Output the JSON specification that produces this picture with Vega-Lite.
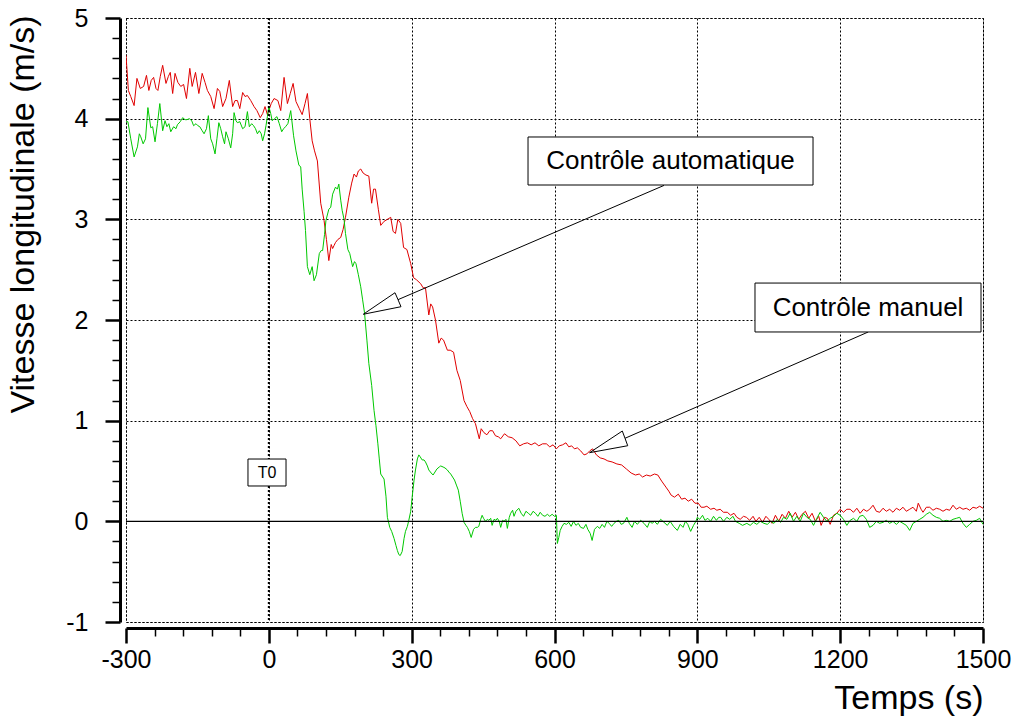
{
"$schema": "https://vega.github.io/schema/vega-lite/v6.json",
"width": 857,
"height": 604,
"autosize": {"type": "none"},
"padding": {"left": 126, "top": 18, "right": 33, "bottom": 97},
"background": "white",
"config": {
  "font": "Liberation Sans",
  "view": {"stroke": "black", "strokeDash": [2, 2], "strokeWidth": 1},
  "axis": {"domainColor": "black", "tickColor": "black", "labelColor": "black", "titleColor": "black", "titleFontWeight": "normal"}
},
"datasets": {
  "manuel": [
    {"t":-300,"v":4.63},{"t":-295,"v":4.28},{"t":-290,"v":4.22},{"t":-283,"v":4.13},{"t":-277,"v":4.40},{"t":-270,"v":4.30},{"t":-263,"v":4.32},{"t":-257,"v":4.43},{"t":-252,"v":4.28},{"t":-247,"v":4.38},{"t":-242,"v":4.41},{"t":-237,"v":4.30},{"t":-233,"v":4.28},{"t":-228,"v":4.42},{"t":-223,"v":4.53},{"t":-216,"v":4.35},{"t":-211,"v":4.42},{"t":-207,"v":4.46},{"t":-202,"v":4.25},{"t":-197,"v":4.45},{"t":-191,"v":4.36},{"t":-185,"v":4.32},{"t":-179,"v":4.34},{"t":-173,"v":4.20},{"t":-166,"v":4.50},{"t":-161,"v":4.32},{"t":-154,"v":4.46},{"t":-147,"v":4.25},{"t":-140,"v":4.45},{"t":-134,"v":4.36},{"t":-129,"v":4.28},{"t":-122,"v":4.22},{"t":-115,"v":4.10},{"t":-108,"v":4.30},{"t":-103,"v":4.27},{"t":-97,"v":4.12},{"t":-90,"v":4.20},{"t":-83,"v":4.38},{"t":-76,"v":4.12},{"t":-71,"v":4.18},{"t":-66,"v":4.18},{"t":-61,"v":4.10},{"t":-55,"v":4.26},{"t":-50,"v":4.22},{"t":-45,"v":4.23},{"t":-38,"v":4.18},{"t":-31,"v":4.12},{"t":-25,"v":4.08},{"t":-18,"v":4.01},{"t":-13,"v":4.05},{"t":-8,"v":4.12},{"t":-3,"v":4.04},{"t":0,"v":4.08},{"t":5,"v":4.15},{"t":11,"v":4.20},{"t":19,"v":4.18},{"t":25,"v":4.08},{"t":32,"v":4.41},{"t":39,"v":4.15},{"t":45,"v":4.25},{"t":51,"v":4.35},{"t":57,"v":4.17},{"t":64,"v":4.10},{"t":70,"v":4.04},{"t":76,"v":4.15},{"t":81,"v":4.25},{"t":86,"v":4.00},{"t":91,"v":3.78},{"t":96,"v":3.68},{"t":102,"v":3.58},{"t":109,"v":3.16},{"t":116,"v":2.99},{"t":121,"v":2.80},{"t":126,"v":2.59},{"t":131,"v":2.75},{"t":134,"v":2.71},{"t":137,"v":2.74},{"t":140,"v":2.77},{"t":145,"v":2.80},{"t":151,"v":2.82},{"t":156,"v":2.90},{"t":161,"v":3.02},{"t":168,"v":3.22},{"t":174,"v":3.36},{"t":179,"v":3.45},{"t":184,"v":3.42},{"t":188,"v":3.48},{"t":193,"v":3.50},{"t":198,"v":3.46},{"t":204,"v":3.44},{"t":210,"v":3.43},{"t":216,"v":3.16},{"t":220,"v":3.30},{"t":224,"v":3.30},{"t":230,"v":3.10},{"t":235,"v":2.94},{"t":242,"v":2.98},{"t":249,"v":3.00},{"t":256,"v":3.02},{"t":261,"v":2.88},{"t":266,"v":2.86},{"t":271,"v":3.00},{"t":277,"v":2.96},{"t":283,"v":2.72},{"t":290,"v":2.70},{"t":298,"v":2.56},{"t":304,"v":2.42},{"t":310,"v":2.40},{"t":319,"v":2.36},{"t":324,"v":2.32},{"t":329,"v":2.32},{"t":336,"v":2.05},{"t":340,"v":2.16},{"t":344,"v":2.13},{"t":350,"v":2.00},{"t":357,"v":1.77},{"t":362,"v":1.82},{"t":367,"v":1.80},{"t":375,"v":1.70},{"t":381,"v":1.70},{"t":388,"v":1.68},{"t":395,"v":1.50},{"t":402,"v":1.40},{"t":410,"v":1.20},{"t":416,"v":1.14},{"t":422,"v":1.09},{"t":428,"v":1.02},{"t":434,"v":0.97},{"t":442,"v":0.82},{"t":446,"v":0.92},{"t":452,"v":0.88},{"t":458,"v":0.86},{"t":464,"v":0.90},{"t":470,"v":0.90},{"t":476,"v":0.85},{"t":482,"v":0.84},{"t":487,"v":0.82},{"t":495,"v":0.87},{"t":503,"v":0.84},{"t":511,"v":0.83},{"t":519,"v":0.80},{"t":527,"v":0.75},{"t":535,"v":0.77},{"t":543,"v":0.78},{"t":551,"v":0.76},{"t":559,"v":0.78},{"t":567,"v":0.75},{"t":575,"v":0.77},{"t":583,"v":0.77},{"t":590,"v":0.74},{"t":597,"v":0.76},{"t":604,"v":0.72},{"t":610,"v":0.75},{"t":617,"v":0.76},{"t":624,"v":0.78},{"t":630,"v":0.74},{"t":636,"v":0.75},{"t":642,"v":0.72},{"t":648,"v":0.73},{"t":655,"v":0.70},{"t":662,"v":0.66},{"t":668,"v":0.67},{"t":674,"v":0.70},{"t":680,"v":0.72},{"t":688,"v":0.66},{"t":696,"v":0.63},{"t":704,"v":0.62},{"t":712,"v":0.60},{"t":721,"v":0.59},{"t":731,"v":0.57},{"t":741,"v":0.56},{"t":751,"v":0.52},{"t":761,"v":0.48},{"t":770,"v":0.46},{"t":778,"v":0.47},{"t":785,"v":0.44},{"t":793,"v":0.46},{"t":801,"v":0.45},{"t":810,"v":0.47},{"t":817,"v":0.46},{"t":825,"v":0.40},{"t":834,"v":0.34},{"t":840,"v":0.30},{"t":845,"v":0.26},{"t":852,"v":0.24},{"t":860,"v":0.27},{"t":867,"v":0.22},{"t":874,"v":0.23},{"t":881,"v":0.20},{"t":888,"v":0.22},{"t":895,"v":0.18},{"t":902,"v":0.18},{"t":908,"v":0.14},{"t":914,"v":0.14},{"t":920,"v":0.15},{"t":928,"v":0.12},{"t":935,"v":0.13},{"t":941,"v":0.11},{"t":948,"v":0.12},{"t":955,"v":0.09},{"t":963,"v":0.09},{"t":970,"v":0.06},{"t":977,"v":0.08},{"t":983,"v":0.04},{"t":990,"v":0.02},{"t":997,"v":0.05},{"t":1003,"v":0.04},{"t":1010,"v":0.01},{"t":1017,"v":0.05},{"t":1023,"v":0.00},{"t":1030,"v":0.04},{"t":1037,"v":-0.01},{"t":1044,"v":0.05},{"t":1050,"v":0.02},{"t":1057,"v":-0.02},{"t":1064,"v":0.06},{"t":1071,"v":0.00},{"t":1078,"v":0.07},{"t":1085,"v":0.03},{"t":1092,"v":0.10},{"t":1099,"v":0.04},{"t":1106,"v":0.09},{"t":1113,"v":0.02},{"t":1120,"v":0.07},{"t":1127,"v":0.10},{"t":1134,"v":0.03},{"t":1141,"v":0.08},{"t":1148,"v":0.00},{"t":1155,"v":0.05},{"t":1160,"v":-0.04},{"t":1167,"v":0.04},{"t":1173,"v":0.03},{"t":1179,"v":-0.03},{"t":1186,"v":0.06},{"t":1193,"v":0.08},{"t":1200,"v":0.12},{"t":1207,"v":0.09},{"t":1214,"v":0.12},{"t":1221,"v":0.12},{"t":1228,"v":0.09},{"t":1235,"v":0.13},{"t":1242,"v":0.08},{"t":1249,"v":0.12},{"t":1256,"v":0.10},{"t":1262,"v":0.12},{"t":1269,"v":0.16},{"t":1276,"v":0.10},{"t":1283,"v":0.09},{"t":1290,"v":0.13},{"t":1297,"v":0.10},{"t":1304,"v":0.12},{"t":1311,"v":0.09},{"t":1318,"v":0.13},{"t":1325,"v":0.11},{"t":1332,"v":0.14},{"t":1339,"v":0.10},{"t":1346,"v":0.12},{"t":1353,"v":0.14},{"t":1360,"v":0.10},{"t":1364,"v":0.18},{"t":1370,"v":0.12},{"t":1374,"v":0.09},{"t":1381,"v":0.14},{"t":1388,"v":0.14},{"t":1395,"v":0.11},{"t":1402,"v":0.13},{"t":1409,"v":0.12},{"t":1416,"v":0.10},{"t":1423,"v":0.12},{"t":1430,"v":0.11},{"t":1437,"v":0.16},{"t":1444,"v":0.12},{"t":1451,"v":0.14},{"t":1458,"v":0.12},{"t":1465,"v":0.13},{"t":1472,"v":0.11},{"t":1479,"v":0.14},{"t":1486,"v":0.13},{"t":1493,"v":0.15},{"t":1500,"v":0.13}
  ],
  "auto": [
    {"t":-300,"v":3.97},{"t":-296,"v":3.97},{"t":-290,"v":3.80},{"t":-283,"v":3.62},{"t":-276,"v":3.72},{"t":-272,"v":3.85},{"t":-269,"v":3.82},{"t":-264,"v":3.75},{"t":-259,"v":3.80},{"t":-254,"v":4.11},{"t":-248,"v":3.91},{"t":-244,"v":3.92},{"t":-239,"v":3.77},{"t":-234,"v":3.95},{"t":-229,"v":4.15},{"t":-223,"v":3.88},{"t":-218,"v":3.98},{"t":-214,"v":3.92},{"t":-210,"v":3.95},{"t":-206,"v":3.87},{"t":-200,"v":3.92},{"t":-195,"v":3.90},{"t":-192,"v":3.94},{"t":-186,"v":3.97},{"t":-181,"v":4.01},{"t":-176,"v":3.99},{"t":-172,"v":3.99},{"t":-167,"v":4.00},{"t":-162,"v":3.98},{"t":-158,"v":3.93},{"t":-153,"v":3.95},{"t":-149,"v":3.93},{"t":-145,"v":3.92},{"t":-140,"v":3.88},{"t":-136,"v":3.85},{"t":-131,"v":3.90},{"t":-127,"v":4.03},{"t":-122,"v":3.80},{"t":-118,"v":3.75},{"t":-113,"v":3.65},{"t":-109,"v":3.80},{"t":-105,"v":3.96},{"t":-101,"v":3.90},{"t":-97,"v":3.82},{"t":-93,"v":3.75},{"t":-90,"v":3.87},{"t":-85,"v":3.80},{"t":-80,"v":3.71},{"t":-76,"v":3.85},{"t":-73,"v":4.06},{"t":-69,"v":3.98},{"t":-66,"v":3.96},{"t":-61,"v":3.97},{"t":-55,"v":3.90},{"t":-50,"v":3.92},{"t":-45,"v":4.07},{"t":-41,"v":3.92},{"t":-36,"v":3.95},{"t":-32,"v":3.93},{"t":-28,"v":3.90},{"t":-24,"v":3.85},{"t":-20,"v":3.88},{"t":-16,"v":3.85},{"t":-13,"v":3.78},{"t":-9,"v":3.85},{"t":-6,"v":3.93},{"t":-3,"v":4.02},{"t":0,"v":4.12},{"t":4,"v":4.05},{"t":7,"v":3.98},{"t":12,"v":4.00},{"t":17,"v":4.02},{"t":22,"v":3.95},{"t":27,"v":3.87},{"t":31,"v":3.90},{"t":35,"v":3.92},{"t":40,"v":3.95},{"t":46,"v":4.08},{"t":52,"v":3.83},{"t":57,"v":3.68},{"t":63,"v":3.54},{"t":67,"v":3.52},{"t":70,"v":3.30},{"t":74,"v":3.08},{"t":77,"v":2.89},{"t":81,"v":2.53},{"t":86,"v":2.45},{"t":91,"v":2.53},{"t":95,"v":2.39},{"t":100,"v":2.45},{"t":106,"v":2.66},{"t":110,"v":2.69},{"t":113,"v":2.69},{"t":117,"v":2.85},{"t":120,"v":2.99},{"t":126,"v":3.10},{"t":130,"v":3.12},{"t":134,"v":3.25},{"t":140,"v":3.32},{"t":144,"v":3.30},{"t":147,"v":3.35},{"t":151,"v":3.19},{"t":154,"v":3.09},{"t":158,"v":3.00},{"t":161,"v":2.86},{"t":166,"v":2.70},{"t":170,"v":2.66},{"t":176,"v":2.53},{"t":180,"v":2.58},{"t":183,"v":2.56},{"t":188,"v":2.45},{"t":193,"v":2.33},{"t":197,"v":2.20},{"t":201,"v":2.07},{"t":206,"v":1.80},{"t":210,"v":1.57},{"t":216,"v":1.35},{"t":221,"v":1.10},{"t":225,"v":0.95},{"t":229,"v":0.77},{"t":232,"v":0.62},{"t":235,"v":0.47},{"t":242,"v":0.42},{"t":246,"v":0.25},{"t":249,"v":0.04},{"t":254,"v":-0.06},{"t":258,"v":-0.10},{"t":263,"v":-0.17},{"t":267,"v":-0.24},{"t":270,"v":-0.29},{"t":273,"v":-0.33},{"t":276,"v":-0.34},{"t":280,"v":-0.30},{"t":284,"v":-0.17},{"t":287,"v":-0.10},{"t":291,"v":-0.05},{"t":294,"v":0.01},{"t":298,"v":0.10},{"t":301,"v":0.24},{"t":305,"v":0.41},{"t":308,"v":0.51},{"t":312,"v":0.62},{"t":315,"v":0.66},{"t":318,"v":0.64},{"t":322,"v":0.61},{"t":326,"v":0.61},{"t":329,"v":0.59},{"t":333,"v":0.55},{"t":336,"v":0.51},{"t":341,"v":0.48},{"t":345,"v":0.46},{"t":349,"v":0.49},{"t":353,"v":0.52},{"t":358,"v":0.54},{"t":361,"v":0.55},{"t":366,"v":0.54},{"t":370,"v":0.53},{"t":375,"v":0.51},{"t":378,"v":0.49},{"t":382,"v":0.47},{"t":386,"v":0.44},{"t":390,"v":0.41},{"t":394,"v":0.36},{"t":398,"v":0.31},{"t":402,"v":0.20},{"t":406,"v":0.08},{"t":410,"v":-0.01},{"t":414,"v":-0.04},{"t":417,"v":-0.06},{"t":421,"v":-0.10},{"t":425,"v":-0.16},{"t":430,"v":-0.08},{"t":434,"v":-0.06},{"t":438,"v":-0.06},{"t":441,"v":-0.05},{"t":445,"v":0.02},{"t":448,"v":0.06},{"t":451,"v":0.03},{"t":455,"v":0.00},{"t":459,"v":0.02},{"t":462,"v":0.01},{"t":466,"v":0.03},{"t":469,"v":-0.04},{"t":473,"v":0.02},{"t":477,"v":0.01},{"t":480,"v":0.03},{"t":484,"v":0.00},{"t":487,"v":-0.06},{"t":491,"v":0.01},{"t":494,"v":0.00},{"t":498,"v":0.02},{"t":501,"v":-0.07},{"t":505,"v":0.04},{"t":508,"v":0.08},{"t":512,"v":0.11},{"t":515,"v":0.05},{"t":519,"v":0.10},{"t":525,"v":0.13},{"t":530,"v":0.08},{"t":535,"v":0.05},{"t":540,"v":0.10},{"t":545,"v":0.08},{"t":550,"v":0.06},{"t":555,"v":0.10},{"t":560,"v":0.08},{"t":565,"v":0.05},{"t":570,"v":0.09},{"t":575,"v":0.06},{"t":580,"v":0.05},{"t":585,"v":0.07},{"t":590,"v":0.05},{"t":595,"v":0.07},{"t":600,"v":0.05},{"t":604,"v":0.06},{"t":606,"v":-0.22},{"t":609,"v":-0.16},{"t":612,"v":-0.09},{"t":616,"v":-0.05},{"t":620,"v":-0.02},{"t":625,"v":-0.03},{"t":630,"v":-0.01},{"t":635,"v":-0.05},{"t":640,"v":0.00},{"t":645,"v":-0.04},{"t":650,"v":-0.02},{"t":655,"v":-0.06},{"t":661,"v":-0.07},{"t":666,"v":-0.03},{"t":670,"v":-0.08},{"t":675,"v":-0.12},{"t":679,"v":-0.19},{"t":684,"v":-0.08},{"t":690,"v":-0.05},{"t":695,"v":-0.07},{"t":700,"v":-0.03},{"t":705,"v":-0.06},{"t":710,"v":0.00},{"t":715,"v":-0.02},{"t":720,"v":-0.05},{"t":725,"v":-0.02},{"t":730,"v":0.00},{"t":735,"v":0.01},{"t":740,"v":-0.03},{"t":745,"v":-0.02},{"t":752,"v":0.04},{"t":757,"v":-0.02},{"t":763,"v":-0.06},{"t":768,"v":0.00},{"t":774,"v":-0.03},{"t":781,"v":0.01},{"t":788,"v":-0.02},{"t":795,"v":-0.06},{"t":800,"v":0.00},{"t":805,"v":-0.02},{"t":810,"v":0.00},{"t":816,"v":-0.03},{"t":823,"v":0.02},{"t":830,"v":-0.01},{"t":837,"v":-0.04},{"t":843,"v":0.00},{"t":850,"v":-0.05},{"t":858,"v":-0.09},{"t":864,"v":-0.03},{"t":870,"v":-0.06},{"t":875,"v":0.00},{"t":880,"v":-0.03},{"t":886,"v":-0.10},{"t":892,"v":-0.04},{"t":897,"v":0.00},{"t":900,"v":0.04},{"t":905,"v":0.02},{"t":911,"v":0.06},{"t":916,"v":0.01},{"t":922,"v":0.03},{"t":928,"v":0.00},{"t":934,"v":0.05},{"t":940,"v":0.01},{"t":945,"v":0.04},{"t":949,"v":0.04},{"t":955,"v":0.00},{"t":962,"v":0.04},{"t":968,"v":0.02},{"t":975,"v":0.05},{"t":980,"v":0.00},{"t":988,"v":-0.02},{"t":995,"v":-0.04},{"t":1004,"v":-0.02},{"t":1011,"v":-0.04},{"t":1018,"v":-0.01},{"t":1025,"v":-0.03},{"t":1032,"v":0.00},{"t":1040,"v":-0.02},{"t":1047,"v":-0.03},{"t":1054,"v":0.00},{"t":1061,"v":-0.02},{"t":1068,"v":0.02},{"t":1075,"v":-0.01},{"t":1081,"v":0.04},{"t":1088,"v":0.02},{"t":1095,"v":0.08},{"t":1102,"v":0.00},{"t":1109,"v":0.05},{"t":1116,"v":0.00},{"t":1123,"v":0.08},{"t":1130,"v":0.04},{"t":1137,"v":0.02},{"t":1144,"v":-0.04},{"t":1151,"v":0.03},{"t":1158,"v":0.09},{"t":1165,"v":0.04},{"t":1172,"v":0.00},{"t":1179,"v":0.03},{"t":1186,"v":0.05},{"t":1193,"v":0.08},{"t":1200,"v":0.06},{"t":1207,"v":0.02},{"t":1214,"v":-0.04},{"t":1221,"v":0.01},{"t":1228,"v":0.03},{"t":1235,"v":0.00},{"t":1241,"v":0.05},{"t":1248,"v":0.06},{"t":1255,"v":0.02},{"t":1262,"v":-0.06},{"t":1269,"v":-0.04},{"t":1276,"v":0.00},{"t":1283,"v":-0.02},{"t":1290,"v":-0.01},{"t":1297,"v":0.01},{"t":1304,"v":-0.02},{"t":1311,"v":0.00},{"t":1318,"v":-0.03},{"t":1325,"v":0.00},{"t":1332,"v":-0.02},{"t":1339,"v":-0.04},{"t":1346,"v":-0.09},{"t":1353,"v":-0.02},{"t":1360,"v":0.00},{"t":1367,"v":0.02},{"t":1374,"v":0.04},{"t":1381,"v":0.07},{"t":1388,"v":0.09},{"t":1395,"v":0.06},{"t":1402,"v":0.04},{"t":1409,"v":0.03},{"t":1416,"v":0.00},{"t":1423,"v":0.01},{"t":1430,"v":0.00},{"t":1437,"v":0.02},{"t":1444,"v":0.03},{"t":1451,"v":0.04},{"t":1458,"v":-0.02},{"t":1465,"v":-0.06},{"t":1472,"v":-0.03},{"t":1479,"v":0.00},{"t":1486,"v":0.01},{"t":1493,"v":0.03},{"t":1500,"v":-0.03}
  ],
  "arrows": [
    {"a":"auto","i":0,"t":830,"v":3.337},{"a":"auto","i":1,"t":271.3,"v":2.202},{"a":"auto","i":2,"t":265,"v":2.271},{"a":"auto","i":3,"t":198.4,"v":2.057},{"a":"auto","i":4,"t":277.6,"v":2.132},{"a":"auto","i":5,"t":271.3,"v":2.202},
    {"a":"manuel","i":0,"t":1259,"v":1.881},{"a":"manuel","i":1,"t":748.1,"v":0.825},{"a":"manuel","i":2,"t":742.4,"v":0.897},{"a":"manuel","i":3,"t":673.7,"v":0.682},{"a":"manuel","i":4,"t":753.8,"v":0.751},{"a":"manuel","i":5,"t":748.1,"v":0.825}
  ],
  "boxes": [
    {"t":544.4,"t2":1143,"v":3.818,"v2":3.341,"tc":843.7,"vc":3.579,"label":"Contrôle automatique"},
    {"t":1021.1,"t2":1495.8,"v":2.367,"v2":1.881,"tc":1258.5,"vc":2.124,"label":"Contrôle manuel"}
  ],
  "t0": [
    {"t":-43.8,"t2":36.1,"v":0.619,"v2":0.351,"tc":-3.8,"vc":0.485,"label":"T0"}
  ]
},
"resolve": {"axis": {"x": "independent", "y": "independent"}},
"layer": [
  {
    "data": {"name": "manuel"},
    "mark": {"type": "line", "color": "#e00000", "strokeWidth": 1, "clip": true},
    "encoding": {
      "x": {"field": "t", "type": "quantitative",
        "scale": {"domain": [-300, 1500], "nice": false, "zero": false},
        "axis": {"orient": "bottom", "values": [-300, 0, 300, 600, 900, 1200, 1500], "labelExpr": "'' + datum.value",
          "offset": 6, "domainWidth": 3, "tickSize": 15, "tickWidth": 2.5, "labelFontSize": 25, "labelPadding": 4,
          "labelFlush": false, "labelOverlap": false,
          "grid": true, "gridColor": "black", "gridDash": [2, 2], "gridWidth": 1, "gridOpacity": 1,
          "title": "Temps (s)", "titleFontSize": 34, "titleX": 857, "titleY": 80, "titleAlign": "right", "titleAnchor": "end", "titleBaseline": "alphabetic"}},
      "y": {"field": "v", "type": "quantitative",
        "scale": {"domain": [-1, 5], "nice": false, "zero": false},
        "axis": {"orient": "left", "values": [-1, 0, 1, 2, 3, 4, 5], "labelExpr": "'' + datum.value",
          "offset": 6, "domainWidth": 3, "tickSize": 15, "tickWidth": 2.5, "labelFontSize": 25, "labelPadding": 17,
          "labelFlush": false, "labelOverlap": false, "labelBaseline": "middle",
          "grid": true, "gridColor": "black", "gridDash": [2, 2], "gridWidth": 1, "gridOpacity": 1,
          "title": "Vitesse longitudinale (m/s)", "titleFontSize": 34, "titleAngle": 270, "titleX": -87, "titleY": 196, "titleAlign": "center", "titleAnchor": "middle", "titleBaseline": "alphabetic"}}
    }
  },
  {
    "data": {"name": "auto"},
    "mark": {"type": "line", "color": "#00c800", "strokeWidth": 1, "clip": true},
    "encoding": {
      "x": {"field": "t", "type": "quantitative",
        "scale": {"domain": [-300, 1500], "nice": false, "zero": false},
        "axis": {"orient": "bottom", "values": [-240,-180,-120,-60,60,120,180,240,360,420,480,540,660,720,780,840,960,1020,1080,1140,1260,1320,1380,1440],
          "offset": 6, "domain": false, "labels": false, "grid": false, "tickSize": 8, "tickWidth": 1.5, "title": null}},
      "y": {"field": "v", "type": "quantitative",
        "scale": {"domain": [-1, 5], "nice": false, "zero": false},
        "axis": {"orient": "left", "values": [-0.8,-0.6,-0.4,-0.2,0.2,0.4,0.6,0.8,1.2,1.4,1.6,1.8,2.2,2.4,2.6,2.8,3.2,3.4,3.6,3.8,4.2,4.4,4.6,4.8],
          "offset": 6, "domain": false, "labels": false, "grid": false, "tickSize": 8, "tickWidth": 1.5, "title": null}}
    }
  },
  {
    "data": {"values": [{}]},
    "mark": {"type": "rule", "color": "black", "strokeWidth": 1.2},
    "encoding": {"y": {"datum": 0, "type": "quantitative", "axis": null}}
  },
  {
    "data": {"values": [{}]},
    "mark": {"type": "rule", "color": "black", "strokeWidth": 2, "strokeDash": [2, 2]},
    "encoding": {"x": {"datum": 0, "type": "quantitative", "axis": null}}
  },
  {
    "data": {"name": "arrows"},
    "mark": {"type": "line", "color": "black", "strokeWidth": 1},
    "encoding": {
      "x": {"field": "t", "type": "quantitative", "axis": null},
      "y": {"field": "v", "type": "quantitative", "axis": null},
      "detail": {"field": "a"},
      "order": {"field": "i", "type": "quantitative"}
    }
  },
  {
    "data": {"name": "boxes"},
    "mark": {"type": "rect", "fill": "white", "stroke": "black", "strokeWidth": 1},
    "encoding": {
      "x": {"field": "t", "type": "quantitative", "axis": null},
      "x2": {"field": "t2"},
      "y": {"field": "v", "type": "quantitative", "axis": null},
      "y2": {"field": "v2"}
    }
  },
  {
    "data": {"name": "boxes"},
    "mark": {"type": "text", "fontSize": 26, "align": "center", "baseline": "middle", "color": "black"},
    "encoding": {
      "x": {"field": "tc", "type": "quantitative", "axis": null},
      "y": {"field": "vc", "type": "quantitative", "axis": null},
      "text": {"field": "label"}
    }
  },
  {
    "data": {"name": "t0"},
    "mark": {"type": "rect", "fill": "white", "stroke": "black", "strokeWidth": 1},
    "encoding": {
      "x": {"field": "t", "type": "quantitative", "axis": null},
      "x2": {"field": "t2"},
      "y": {"field": "v", "type": "quantitative", "axis": null},
      "y2": {"field": "v2"}
    }
  },
  {
    "data": {"name": "t0"},
    "mark": {"type": "text", "fontSize": 16, "align": "center", "baseline": "middle", "color": "black"},
    "encoding": {
      "x": {"field": "tc", "type": "quantitative", "axis": null},
      "y": {"field": "vc", "type": "quantitative", "axis": null},
      "text": {"field": "label"}
    }
  }
]
}
